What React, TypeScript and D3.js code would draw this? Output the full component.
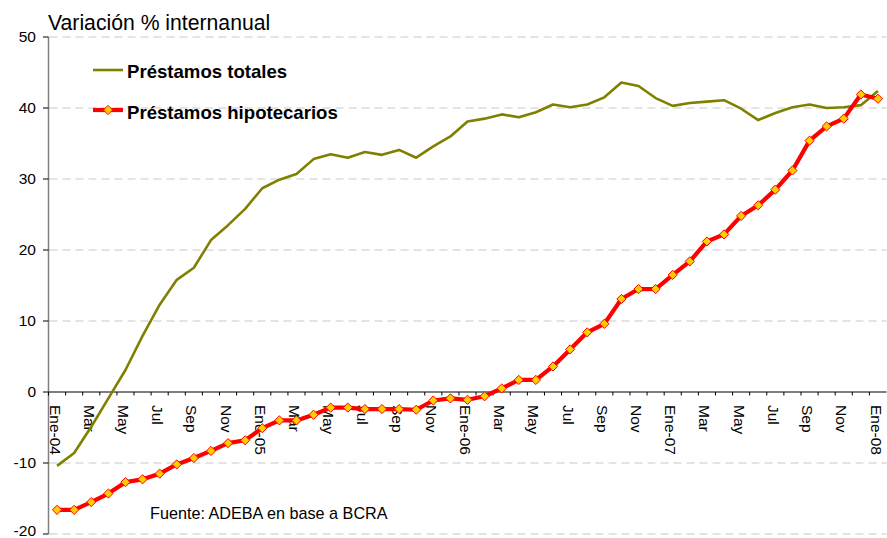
import React from "react";
import * as d3 from "d3";

const months = ["Ene-04","Feb","Mar","Abr","May","Jun","Jul","Ago","Sep","Oct","Nov","Dic",
  "Ene-05","Feb","Mar","Abr","May","Jun","Jul","Ago","Sep","Oct","Nov","Dic",
  "Ene-06","Feb","Mar","Abr","May","Jun","Jul","Ago","Sep","Oct","Nov","Dic",
  "Ene-07","Feb","Mar","Abr","May","Jun","Jul","Ago","Sep","Oct","Nov","Dic",
  "Ene-08"];

const totales = [-10.4, -8.6, -4.9, -0.9, 3.1, 7.9, 12.3, 15.8, 17.5, 21.4, 23.5, 25.8,
  28.7, 29.9, 30.7, 32.8, 33.5, 33.0, 33.8, 33.4, 34.1, 33.0, 34.6, 36.0,
  38.1, 38.5, 39.1, 38.7, 39.4, 40.5, 40.1, 40.5, 41.5, 43.6, 43.1, 41.4,
  40.3, 40.7, 40.9, 41.1, 39.9, 38.3, 39.3, 40.1, 40.5, 40.0, 40.1, 40.4,
  42.4];

const hipotecarios = [-16.6, -16.6, -15.5, -14.3, -12.7, -12.3, -11.5, -10.2, -9.3, -8.3, -7.2, -6.8,
  -5.1, -4.0, -4.0, -3.2, -2.2, -2.2, -2.4, -2.4, -2.4, -2.5, -1.2, -0.9,
  -1.1, -0.6, 0.5, 1.7, 1.7, 3.6, 6.0, 8.4, 9.6, 13.1, 14.5, 14.5,
  16.5, 18.4, 21.2, 22.2, 24.8, 26.3, 28.5, 31.2, 35.4, 37.4, 38.5, 41.9,
  41.3];

const yTicks = [-20, -10, 0, 10, 20, 30, 40, 50];

const W = 887, H = 538;
const FONT = "Arial, 'Liberation Sans', Helvetica, sans-serif";

export default function App() {
  const left = 48.5, right = 886.5, top = 37, bottom = 534;
  const idx = months.map((_, i) => i);
  const x = d3.scaleBand<number>().domain(idx).range([left, right]).padding(0);
  const cx = (i: number) => (x(i) as number) + x.bandwidth() / 2;
  const y = d3.scaleLinear().domain([-20, 50]).range([bottom, top]);
  const line = d3.line<number>().x((_, i) => cx(i)).y((d) => y(d));
  const diamond = (px: number, py: number, r = 4.6) =>
    `M${px},${py - r}L${px + r},${py}L${px},${py + r}L${px - r},${py}Z`;
  const y0 = y(0);

  return (
    <svg width={W} height={H} style={{ position: "absolute", left: 0, top: 0, background: "#fff" }}
      fontFamily={FONT}>
      {/* gridlines */}
      {yTicks.filter((t) => t !== 0).map((t) => (
        <line key={"g" + t} x1={left + 1} x2={right} y1={y(t)} y2={y(t)}
          stroke="#c8c8c8" strokeWidth={1} strokeDasharray="8,5" />
      ))}
      {/* y axis */}
      <line x1={left} x2={left} y1={top} y2={bottom} stroke="#808080" strokeWidth={1.5} />
      {yTicks.map((t) => (
        <g key={"yt" + t}>
          <line x1={left - 5.5} x2={left} y1={y(t)} y2={y(t)} stroke="#000" strokeWidth={1} />
          <text x={36} y={t === -20 ? y(t) - 3 : y(t)} dy="0.35em" textAnchor="end"
            fontSize={15.5} fill="#000">{t}</text>
        </g>
      ))}
      {/* x axis */}
      <line x1={left} x2={right} y1={y0} y2={y0} stroke="#000" strokeWidth={1.2} />
      {idx.map((i) => (
        <line key={"xt" + i} x1={x(i) as number} x2={x(i) as number} y1={y0} y2={y0 + 3.5}
          stroke="#000" strokeWidth={1} />
      ))}
      {idx.filter((i) => i % 2 === 0).map((i) => (
        <text key={"xl" + i} transform={`translate(${cx(i) - 2},${y0 + 13}) rotate(90)`}
          dy="0.35em" textAnchor="start" fontSize={15.5} fill="#000">{months[i]}</text>
      ))}
      {/* series */}
      <path d={line(totales) || ""} fill="none" stroke="#808000" strokeWidth={2.6}
        strokeLinejoin="round" />
      <path d={line(hipotecarios) || ""} fill="none" stroke="#ff0000" strokeWidth={4.2}
        strokeLinejoin="round" />
      {hipotecarios.map((v, i) => (
        <path key={"m" + i} d={diamond(cx(i), y(v))} fill="#ffcc00" stroke="#ff0000" strokeWidth={1} />
      ))}
      {/* title */}
      <text x={48} y={29.5} fontSize={21.2} fill="#000">Variación % internanual</text>
      {/* legend */}
      <line x1={93} x2={123} y1={70} y2={70} stroke="#808000" strokeWidth={2.6} />
      <text x={127} y={78} fontSize={18.6} fontWeight="bold" fill="#000">Préstamos totales</text>
      <line x1={93} x2={123} y1={110} y2={110} stroke="#ff0000" strokeWidth={4.2} />
      <path d={diamond(108, 110)} fill="#ffcc00" stroke="#ff0000" strokeWidth={1} />
      <text x={127} y={118.5} fontSize={18.6} fontWeight="bold" fill="#000">Préstamos hipotecarios</text>
      {/* source */}
      <text x={150} y={519} fontSize={16.2} fill="#000">Fuente: ADEBA en base a BCRA</text>
    </svg>
  );
}
